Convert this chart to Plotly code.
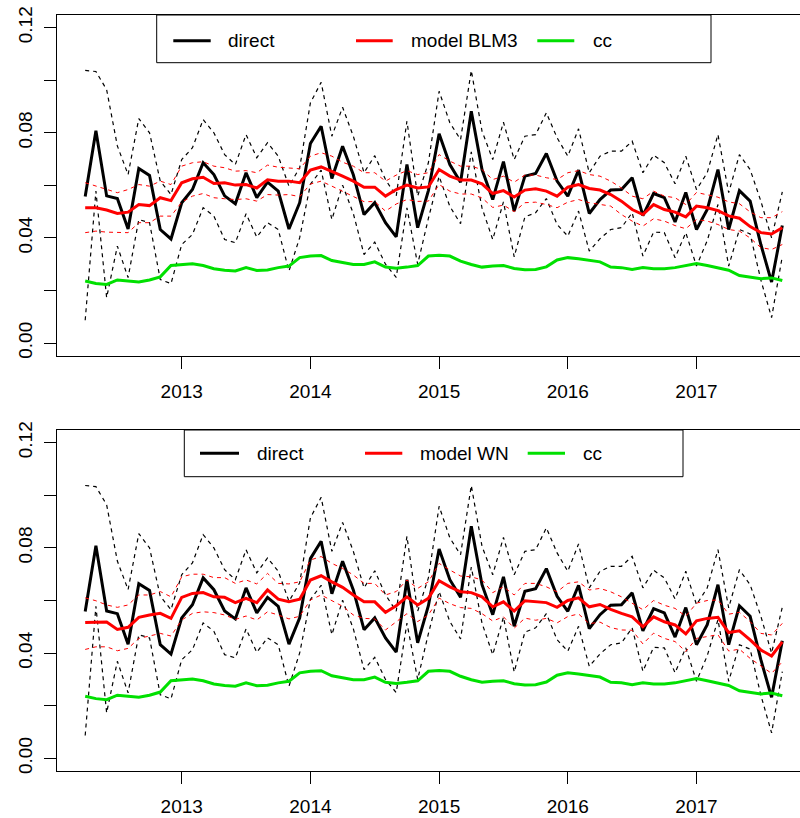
import plotly.graph_objects as go

# ---------------- data ----------------
start_year = 2012
start_month = 4          # April 2012
n_months = 66            # to September 2017
time = [start_year + (start_month - 1 + i) / 12 for i in range(n_months)]

direct = [0.0558, 0.0808, 0.0560, 0.0550, 0.0434, 0.0664, 0.0638, 0.0432, 0.0396, 0.0534,
          0.0584, 0.0686, 0.0641, 0.0560, 0.0530, 0.0648, 0.0553, 0.0612, 0.0578, 0.0434,
          0.0534, 0.0759, 0.0825, 0.0626, 0.0749, 0.0640, 0.0489, 0.0534, 0.0458, 0.0404,
          0.0679, 0.0439, 0.0580, 0.0796, 0.0679, 0.0612, 0.0882, 0.0660, 0.0546, 0.0690,
          0.0502, 0.0635, 0.0645, 0.0721, 0.0616, 0.0559, 0.0658, 0.0493, 0.0546, 0.0582,
          0.0584, 0.0629, 0.0485, 0.0569, 0.0553, 0.0461, 0.0573, 0.0432, 0.0508, 0.0660,
          0.0432, 0.0580, 0.0540, 0.0375, 0.0232, 0.0447]
direct_upper = [0.1037, 0.1033, 0.0964, 0.0750, 0.0641, 0.0854, 0.0800, 0.0616, 0.0565, 0.0698,
                0.0743, 0.0850, 0.0800, 0.0717, 0.0679, 0.0793, 0.0705, 0.0762, 0.0711, 0.0597,
                0.0667, 0.0914, 0.0992, 0.0787, 0.0897, 0.0787, 0.0648, 0.0713, 0.0622, 0.0559,
                0.0844, 0.0559, 0.0686, 0.0958, 0.0838, 0.0774, 0.1037, 0.0806, 0.0698, 0.0840,
                0.0698, 0.0787, 0.0793, 0.0876, 0.0781, 0.0711, 0.0815, 0.0648, 0.0711, 0.0730,
                0.0730, 0.0768, 0.0648, 0.0715, 0.0686, 0.0606, 0.0711, 0.0584, 0.0648, 0.0793,
                0.0572, 0.0717, 0.0660, 0.0540, 0.0400, 0.0575]
direct_lower = [0.0087, 0.0578, 0.0173, 0.0369, 0.0249, 0.0470, 0.0458, 0.0242, 0.0226, 0.0375,
                0.0413, 0.0515, 0.0483, 0.0394, 0.0382, 0.0492, 0.0403, 0.0458, 0.0432, 0.0274,
                0.0401, 0.0604, 0.0658, 0.0470, 0.0601, 0.0493, 0.0337, 0.0384, 0.0300, 0.0250,
                0.0514, 0.0300, 0.0474, 0.0634, 0.0520, 0.0454, 0.0727, 0.0514, 0.0394, 0.0537,
                0.0328, 0.0480, 0.0496, 0.0550, 0.0451, 0.0407, 0.0502, 0.0350, 0.0397, 0.0432,
                0.0439, 0.0496, 0.0331, 0.0422, 0.0420, 0.0325, 0.0420, 0.0293, 0.0390, 0.0527,
                0.0293, 0.0432, 0.0415, 0.0240, 0.0097, 0.0330]

blm3 = [0.0515, 0.0515, 0.0506, 0.0493, 0.0498, 0.0527, 0.0523, 0.0553, 0.0542, 0.0610,
        0.0625, 0.0631, 0.0607, 0.0610, 0.0601, 0.0603, 0.0590, 0.0621, 0.0616, 0.0616,
        0.0610, 0.0658, 0.0670, 0.0654, 0.0635, 0.0616, 0.0593, 0.0593, 0.0559, 0.0584,
        0.0601, 0.0590, 0.0594, 0.0660, 0.0635, 0.0620, 0.0620, 0.0606, 0.0569, 0.0580,
        0.0556, 0.0582, 0.0587, 0.0578, 0.0559, 0.0593, 0.0603, 0.0588, 0.0582, 0.0565,
        0.0540, 0.0508, 0.0489, 0.0527, 0.0508, 0.0498, 0.0480, 0.0521, 0.0515, 0.0504,
        0.0484, 0.0475, 0.0443, 0.0420, 0.0415, 0.0439]
blm3_upper = [0.0610, 0.0597, 0.0584, 0.0572, 0.0584, 0.0603, 0.0597, 0.0616, 0.0603, 0.0673,
              0.0686, 0.0690, 0.0673, 0.0667, 0.0654, 0.0656, 0.0648, 0.0677, 0.0669, 0.0667,
              0.0663, 0.0711, 0.0724, 0.0711, 0.0688, 0.0673, 0.0648, 0.0648, 0.0616, 0.0639,
              0.0656, 0.0641, 0.0648, 0.0717, 0.0692, 0.0673, 0.0673, 0.0660, 0.0622, 0.0635,
              0.0612, 0.0639, 0.0639, 0.0629, 0.0622, 0.0648, 0.0656, 0.0641, 0.0635, 0.0616,
              0.0590, 0.0559, 0.0549, 0.0578, 0.0559, 0.0553, 0.0527, 0.0573, 0.0565, 0.0555,
              0.0537, 0.0530, 0.0499, 0.0477, 0.0477, 0.0500]
blm3_lower = [0.0420, 0.0426, 0.0422, 0.0420, 0.0420, 0.0458, 0.0458, 0.0483, 0.0483, 0.0536,
              0.0559, 0.0569, 0.0553, 0.0549, 0.0546, 0.0549, 0.0540, 0.0565, 0.0563, 0.0565,
              0.0557, 0.0605, 0.0616, 0.0597, 0.0578, 0.0559, 0.0538, 0.0538, 0.0502, 0.0529,
              0.0546, 0.0539, 0.0540, 0.0603, 0.0578, 0.0567, 0.0567, 0.0552, 0.0516, 0.0525,
              0.0500, 0.0534, 0.0536, 0.0527, 0.0515, 0.0536, 0.0546, 0.0534, 0.0527, 0.0521,
              0.0489, 0.0464, 0.0445, 0.0473, 0.0464, 0.0447, 0.0435, 0.0470, 0.0464, 0.0451,
              0.0432, 0.0426, 0.0400, 0.0363, 0.0356, 0.0375]

wn = [0.0516, 0.0516, 0.0518, 0.0490, 0.0498, 0.0536, 0.0545, 0.0551, 0.0532, 0.0612,
      0.0627, 0.0630, 0.0614, 0.0612, 0.0592, 0.0608, 0.0592, 0.0640, 0.0605, 0.0595,
      0.0605, 0.0678, 0.0694, 0.0671, 0.0650, 0.0621, 0.0595, 0.0595, 0.0555, 0.0580,
      0.0614, 0.0583, 0.0608, 0.0675, 0.0652, 0.0633, 0.0630, 0.0614, 0.0576, 0.0595,
      0.0560, 0.0599, 0.0595, 0.0592, 0.0574, 0.0600, 0.0610, 0.0576, 0.0585, 0.0566,
      0.0551, 0.0538, 0.0500, 0.0538, 0.0519, 0.0507, 0.0473, 0.0523, 0.0532, 0.0536,
      0.0478, 0.0485, 0.0450, 0.0412, 0.0389, 0.0443]
wn_upper = [0.0610, 0.0599, 0.0583, 0.0574, 0.0583, 0.0621, 0.0621, 0.0634, 0.0614, 0.0690,
            0.0700, 0.0700, 0.0687, 0.0687, 0.0665, 0.0678, 0.0663, 0.0703, 0.0665, 0.0663,
            0.0671, 0.0754, 0.0767, 0.0741, 0.0722, 0.0697, 0.0665, 0.0665, 0.0621, 0.0634,
            0.0678, 0.0646, 0.0671, 0.0741, 0.0716, 0.0693, 0.0690, 0.0678, 0.0630, 0.0652,
            0.0621, 0.0665, 0.0665, 0.0652, 0.0633, 0.0665, 0.0671, 0.0640, 0.0646, 0.0633,
            0.0614, 0.0589, 0.0565, 0.0600, 0.0582, 0.0570, 0.0540, 0.0590, 0.0600, 0.0602,
            0.0548, 0.0555, 0.0520, 0.0475, 0.0469, 0.0513]
wn_lower = [0.0414, 0.0424, 0.0424, 0.0409, 0.0418, 0.0456, 0.0465, 0.0475, 0.0465, 0.0526,
            0.0551, 0.0557, 0.0554, 0.0545, 0.0528, 0.0541, 0.0526, 0.0557, 0.0545, 0.0530,
            0.0540, 0.0602, 0.0621, 0.0601, 0.0578, 0.0545, 0.0532, 0.0530, 0.0488, 0.0519,
            0.0550, 0.0520, 0.0545, 0.0609, 0.0588, 0.0573, 0.0570, 0.0550, 0.0522, 0.0538,
            0.0495, 0.0533, 0.0525, 0.0532, 0.0515, 0.0539, 0.0549, 0.0512, 0.0518, 0.0497,
            0.0488, 0.0487, 0.0435, 0.0476, 0.0456, 0.0444, 0.0406, 0.0456, 0.0464, 0.0470,
            0.0408, 0.0415, 0.0380, 0.0350, 0.0323, 0.0367]

cc = [0.0236, 0.0227, 0.0223, 0.0240, 0.0236, 0.0232, 0.0240, 0.0252, 0.0295, 0.0299,
      0.0302, 0.0295, 0.0283, 0.0277, 0.0274, 0.0287, 0.0276, 0.0278, 0.0287, 0.0293,
      0.0325, 0.0331, 0.0333, 0.0314, 0.0306, 0.0299, 0.0299, 0.0309, 0.0289, 0.0285,
      0.0289, 0.0295, 0.0331, 0.0334, 0.0331, 0.0312, 0.0299, 0.0289, 0.0293, 0.0295,
      0.0284, 0.0279, 0.0280, 0.0290, 0.0316, 0.0325, 0.0321, 0.0316, 0.0309, 0.0289,
      0.0287, 0.0280, 0.0287, 0.0283, 0.0283, 0.0287, 0.0295, 0.0303, 0.0295, 0.0287,
      0.0277, 0.0257, 0.0252, 0.0245, 0.0248, 0.0238]

year_ticks = [2013, 2014, 2015, 2016, 2017]
year_labels = ["2013", "2014", "2015", "2016", "2017"]
y_ticks = [0.00, 0.02, 0.04, 0.06, 0.08, 0.10, 0.12]
y_labels = ["0.00", "", "0.04", "", "0.08", "", "0.12"]

legend_names_top = ["direct", "model BLM3", "cc"]
legend_names_bottom = ["direct", "model WN", "cc"]

# ---------------- styling ----------------
W, H = 800, 818
FONT = "Liberation Sans, Arial, Helvetica, sans-serif"
BLACK, RED, GREEN = "#000000", "#FF0000", "#00E000"


def px(x):
    return x / W


def py(y):
    return 1 - y / H


fig = go.Figure()

panels = [
    ("x", "y", blm3, blm3_upper, blm3_lower),
    ("x2", "y2", wn, wn_upper, wn_lower),
]
for xa, ya, model, mup, mlo in panels:
    fig.add_trace(go.Scatter(x=time, y=direct, mode="lines", xaxis=xa, yaxis=ya,
                             line=dict(color=BLACK, width=3)))
    for s in (direct_upper, direct_lower):
        fig.add_trace(go.Scatter(x=time, y=s, mode="lines", xaxis=xa, yaxis=ya,
                                 line=dict(color=BLACK, width=1.2, dash="4px,4px")))
    fig.add_trace(go.Scatter(x=time, y=model, mode="lines", xaxis=xa, yaxis=ya,
                             line=dict(color=RED, width=3)))
    for s in (mup, mlo):
        fig.add_trace(go.Scatter(x=time, y=s, mode="lines", xaxis=xa, yaxis=ya,
                                 line=dict(color=RED, width=1, dash="4px,4px")))
    fig.add_trace(go.Scatter(x=time, y=cc, mode="lines", xaxis=xa, yaxis=ya,
                             line=dict(color=GREEN, width=3)))

x_range = [2012.0333, 2012.0333 + (W - 57.3) / 128.7]
y_range = [-0.0048, 0.1248]

xcommon = dict(range=x_range, tickmode="array", tickvals=year_ticks, ticktext=year_labels,
               ticks="outside", ticklen=12, tickwidth=1, tickcolor=BLACK,
               showline=True, linecolor=BLACK, linewidth=1, mirror=True,
               showgrid=False, zeroline=False, automargin=False, ticklabelstandoff=6,
               tickfont=dict(family=FONT, size=19, color=BLACK),
               domain=[px(57.3), 1])
ycommon = dict(range=y_range, tickmode="array", tickvals=y_ticks, ticktext=y_labels,
               ticks="outside", ticklen=12, tickwidth=1, tickcolor=BLACK,
               showline=True, linecolor=BLACK, linewidth=1, mirror=False,
               showgrid=False, zeroline=False, tickangle=-90, automargin=False,
               ticklabelstandoff=5,
               tickfont=dict(family=FONT, size=19, color=BLACK))

fig.update_layout(
    width=W, height=H, margin=dict(l=0, r=0, t=0, b=0, pad=0), autosize=False,
    paper_bgcolor="white", plot_bgcolor="white", showlegend=False,
    xaxis=dict(xcommon, anchor="y"),
    yaxis=dict(ycommon, anchor="x", domain=[py(355.7), py(15)]),
    xaxis2=dict(xcommon, anchor="y2"),
    yaxis2=dict(ycommon, anchor="x2", domain=[py(771), py(430)]),
)

# ---------------- manual legends ----------------
legends = [
    dict(box=(156.7, 15, 711, 62.7), ym=40.7,
         lines=[(173.3, 210.7), (356, 392.7), (537.3, 574.3)],
         tx=[227.3, 410, 591.7], names=legend_names_top),
    dict(box=(184.3, 430, 683, 476.7), ym=453.3,
         lines=[(200, 239), (365, 402.3), (527.7, 565)],
         tx=[255.7, 419.3, 582.3], names=legend_names_bottom),
]
colors = [BLACK, RED, GREEN]
for lg in legends:
    x0, y0, x1, y1 = lg["box"]
    fig.add_shape(type="rect", xref="paper", yref="paper",
                  x0=px(x0), x1=px(x1), y0=py(y1), y1=py(y0),
                  line=dict(color=BLACK, width=1), fillcolor="white", layer="above")
    for (a, b), c, t, name in zip(lg["lines"], colors, lg["tx"], lg["names"]):
        fig.add_shape(type="line", xref="paper", yref="paper",
                      x0=px(a), x1=px(b), y0=py(lg["ym"]), y1=py(lg["ym"]),
                      line=dict(color=c, width=3), layer="above")
        fig.add_annotation(x=px(t), y=py(lg["ym"]), xref="paper", yref="paper",
                           text=name, showarrow=False, xanchor="left", yanchor="middle",
                           borderpad=0,
                           font=dict(family=FONT, size=19, color=BLACK))

fig.write_html("out.html",
               config={"responsive": False, "displayModeBar": False},
               post_script="document.body.style.margin='0';"
                           "document.body.style.overflow='hidden';")
